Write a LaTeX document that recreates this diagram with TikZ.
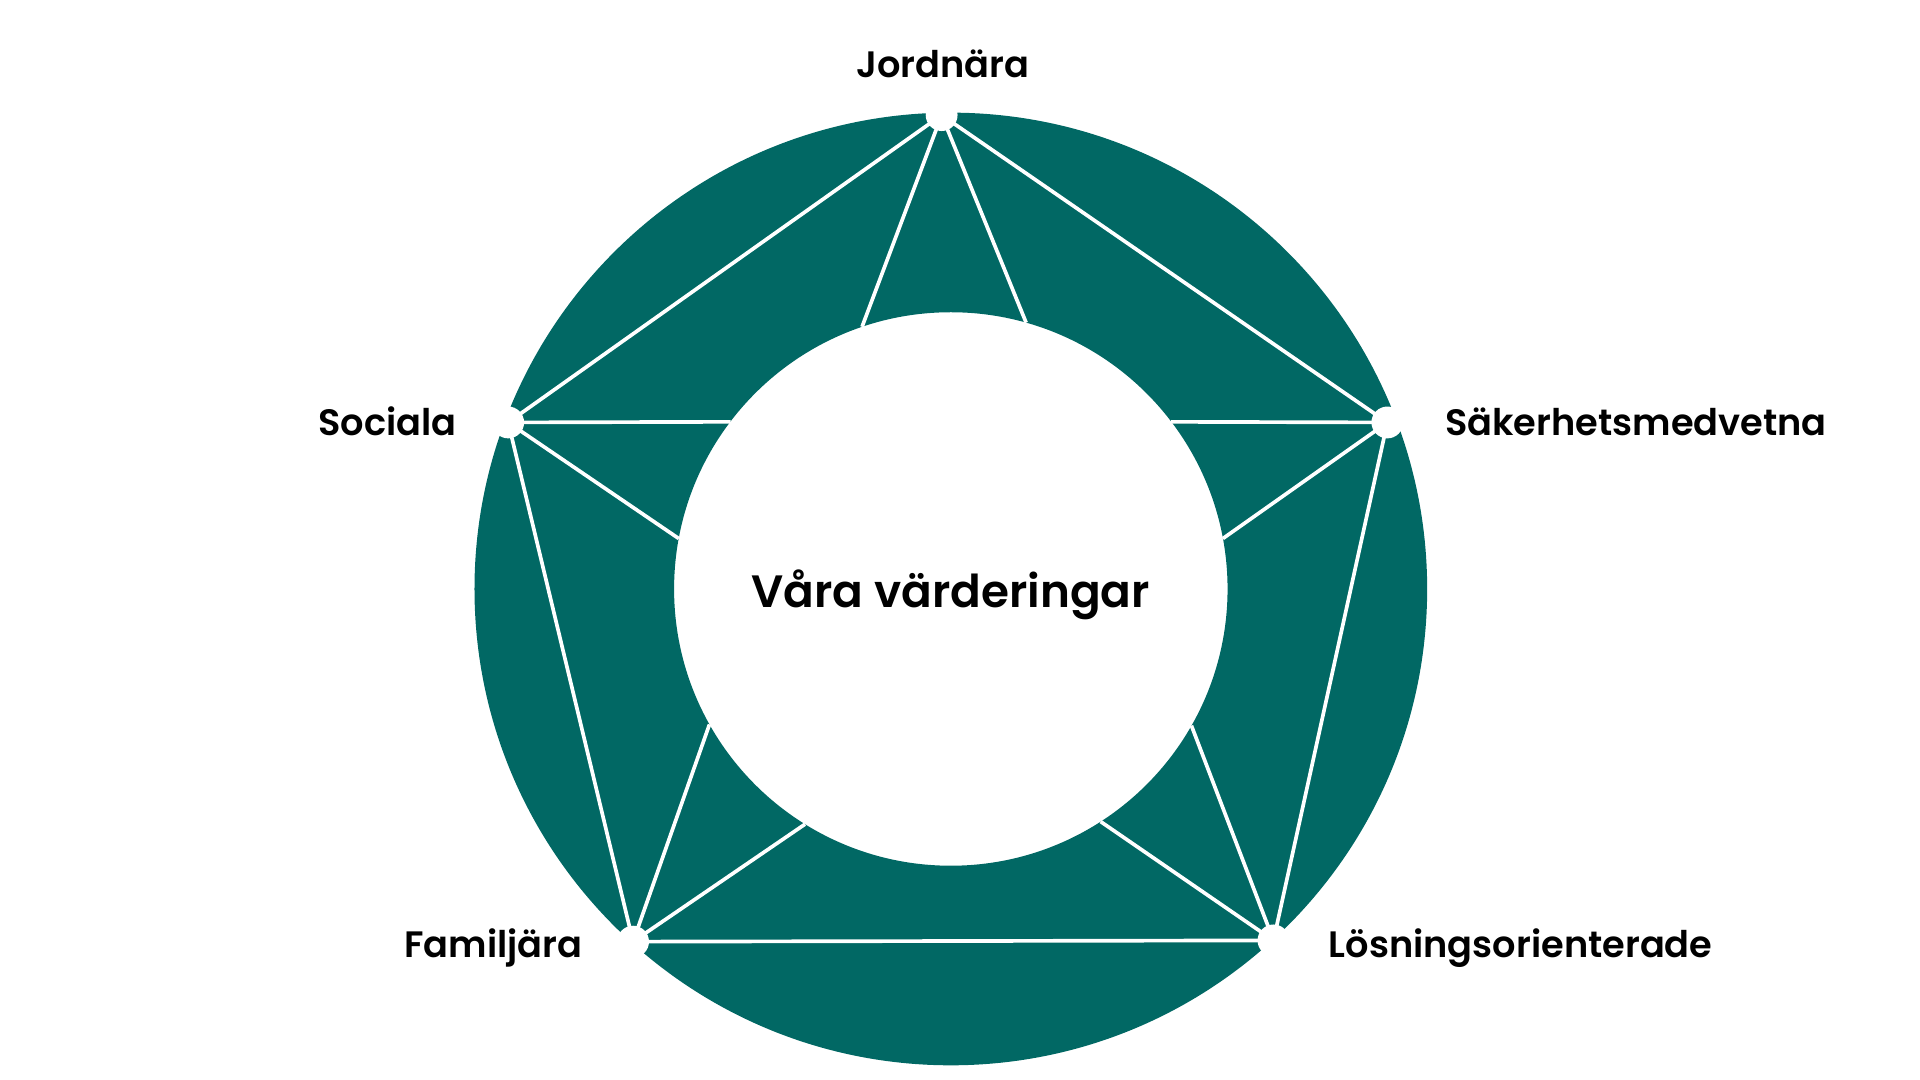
\documentclass[tikz,border=0pt]{standalone}
\usepackage{fontspec}
\setmainfont{Poppins SemiBold}
\definecolor{ringteal}{RGB}{1,104,100}
\tikzset{
  ring/.style={fill=ringteal, even odd rule},
  spoke/.style={draw=white, line width=3pt},
  vdot/.style={circle, fill=white, inner sep=0pt, minimum size=26pt},
  lbl/.style={font=\fontsize{30}{36}\selectfont, text=black, inner sep=0pt},
  ctr/.style={font=\fontsize{37}{44}\selectfont, text=black, inner sep=0pt}
}
\begin{document}
\begin{tikzpicture}[x=1pt,y=-1pt]
\useasboundingbox (0,0) rectangle (1568,882);
\coordinate (C) at (776.5,481);
\fill[ring] (C) circle[radius=389] (C) circle[radius=226];
% vertices
\coordinate (J) at (769,94);
\coordinate (S) at (1133,345);
\coordinate (L) at (1040,768);
\coordinate (F) at (517,769);
\coordinate (So) at (415,345);
% inner points
\coordinate (i1) at (704.0,266.9);
\coordinate (i2) at (838.0,263.5);
\coordinate (i3) at (956.3,344.5);
\coordinate (i4) at (998.7,439.8);
\coordinate (i5) at (973.0,592.6);
\coordinate (i6) at (898.9,671.0);
\coordinate (i7) at (657.4,673.1);
\coordinate (i8) at (579.4,591.6);
\coordinate (i9) at (554.3,439.8);
\coordinate (i10) at (596.7,344.5);
% pentagon edges
\draw[spoke] (J) -- (S) -- (L) -- (F) -- (So) -- cycle;
% spokes to inner circle
\draw[spoke] (J) -- (i1);
\draw[spoke] (J) -- (i2);
\draw[spoke] (S) -- (i3);
\draw[spoke] (S) -- (i4);
\draw[spoke] (L) -- (i5);
\draw[spoke] (L) -- (i6);
\draw[spoke] (F) -- (i7);
\draw[spoke] (F) -- (i8);
\draw[spoke] (So) -- (i9);
\draw[spoke] (So) -- (i10);
% vertex dots
\node[vdot] (dJ) at (J) {};
\node[vdot] (dS) at (S) {};
\node[vdot] (dL) at (L) {};
\node[vdot] (dF) at (F) {};
\node[vdot] (dSo) at (So) {};
% labels
\node[lbl, anchor=base] (tJ) at (770,63) {Jordnära};
\node[lbl, anchor=base west] (tS) at (1180,356) {Säkerhetsmedvetna};
\node[lbl, anchor=base east] (tSo) at (373,356) {Sociala};
\node[lbl, anchor=base east] (tF) at (476,782) {Familjära};
\node[lbl, anchor=base west] (tL) at (1085,782) {Lösningsorienterade};
\node[ctr, anchor=base] (tC) at (776.5,496) {Våra värderingar};
\end{tikzpicture}
\end{document}
